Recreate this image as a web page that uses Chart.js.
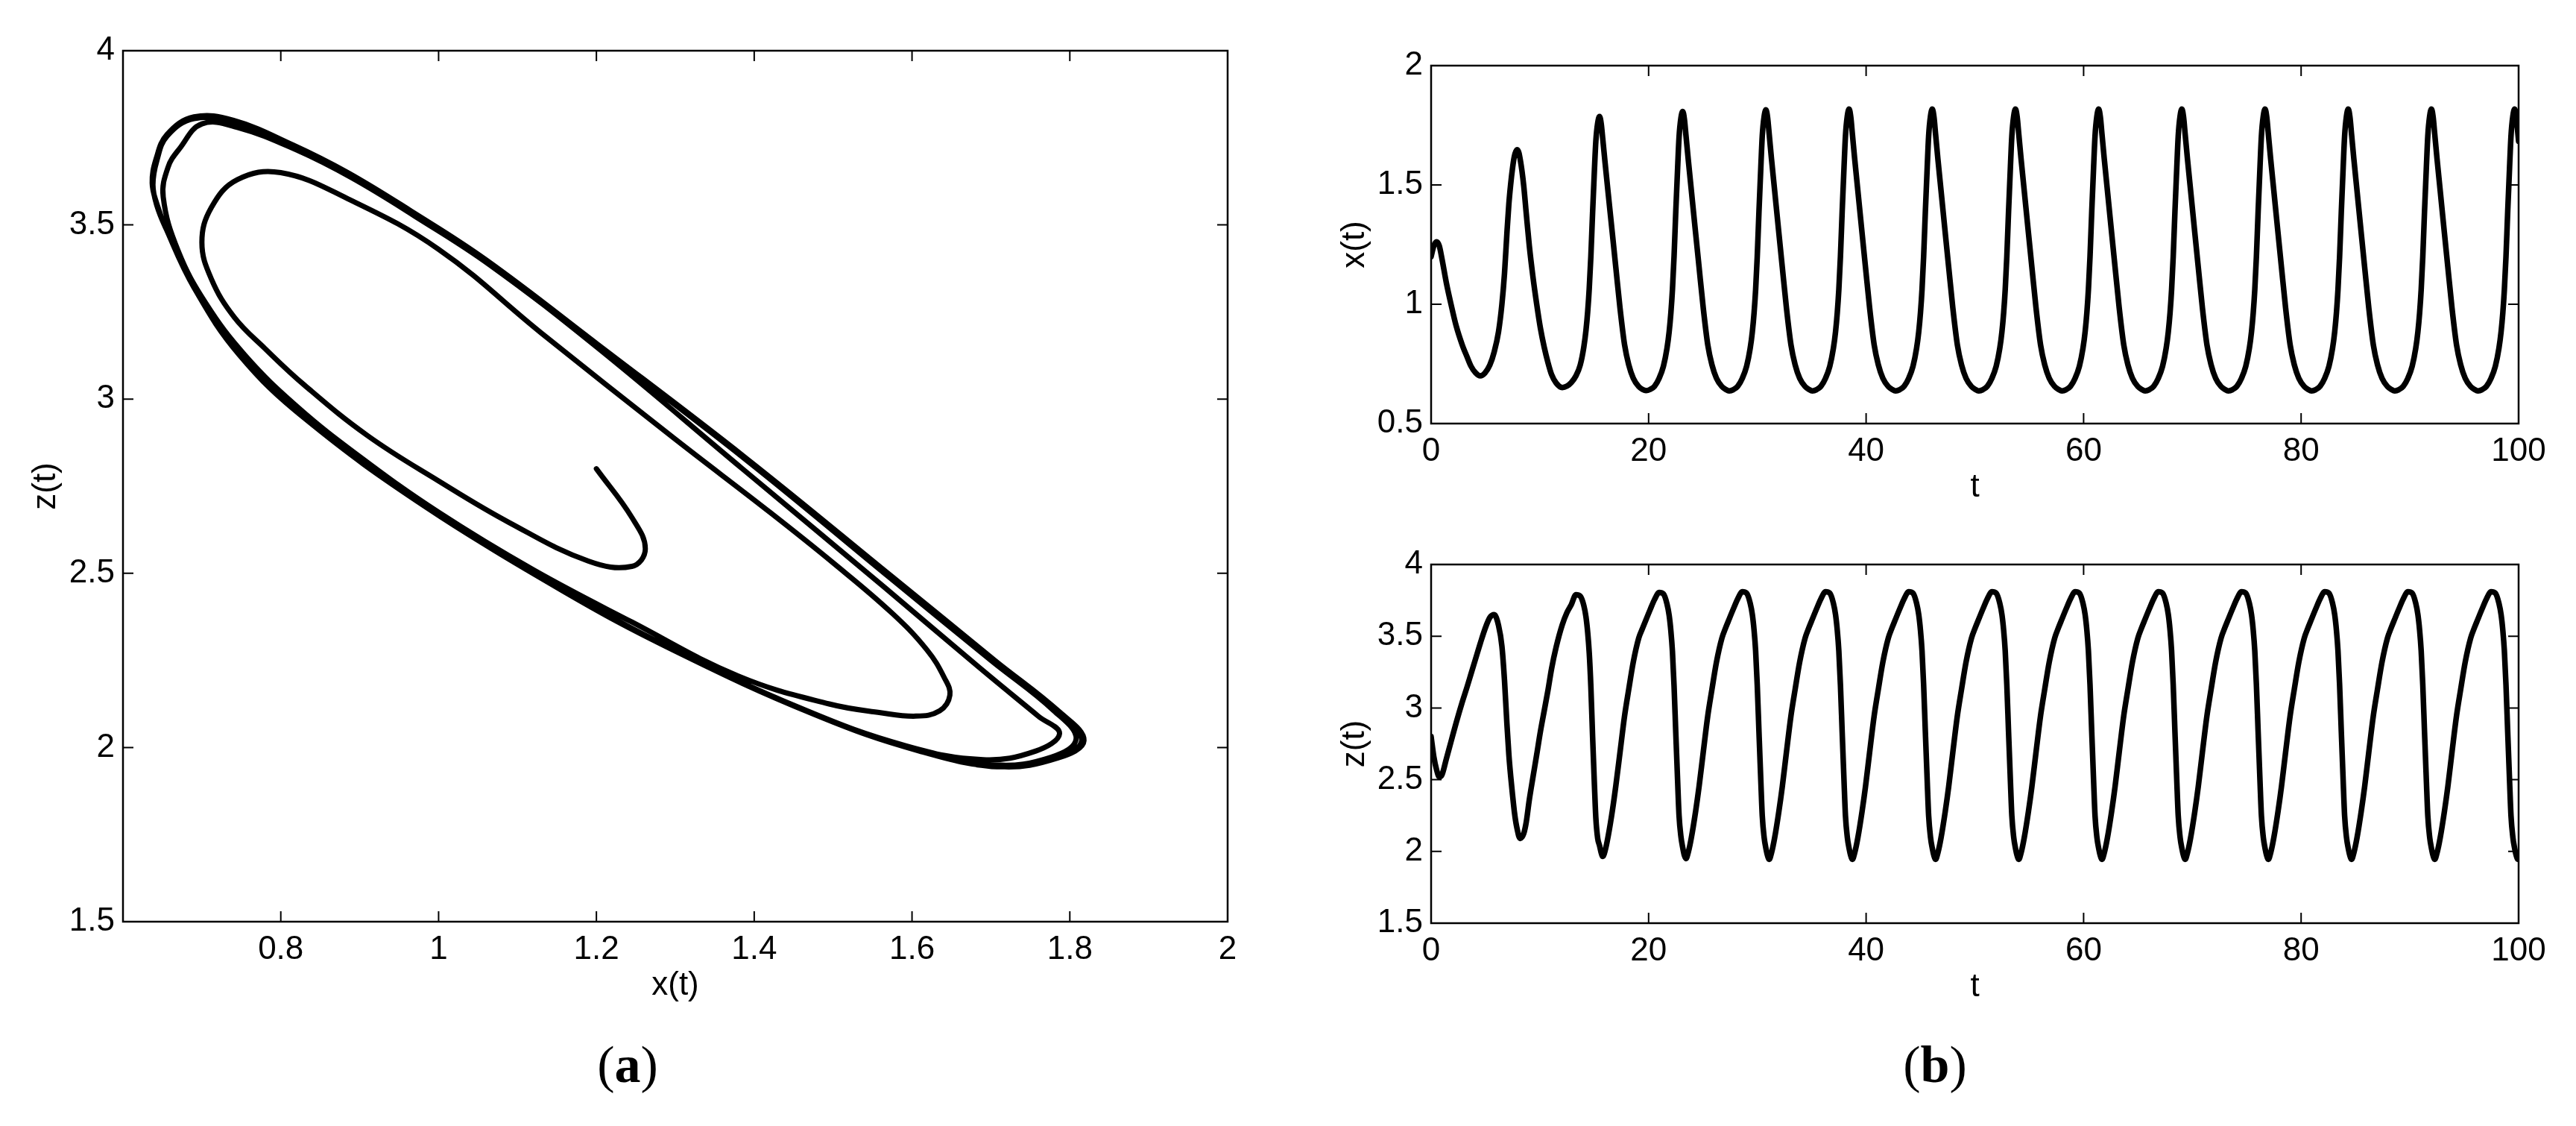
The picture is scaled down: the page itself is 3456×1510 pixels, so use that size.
<!DOCTYPE html>
<html>
<head>
<meta charset="utf-8">
<script src="https://cdn.jsdelivr.net/npm/chart.js@4.4.0/dist/chart.umd.min.js"></script>
<style>
html,body{margin:0;padding:0;background:#fff;}
body{width:3456px;height:1510px;position:relative;overflow:hidden;}
canvas{position:absolute;}
.cap{position:absolute;font-family:'Liberation Serif','DejaVu Serif',serif;font-size:70px;line-height:1;transform:translate(-50%,-50%);color:#000;white-space:nowrap;}
.cap b{font-weight:bold;}
</style>
</head>
<body>
<canvas id="phase" width="1720" height="1360" style="left:0px;top:0px;width:1720px;height:1360px"></canvas>
<canvas id="xts" width="1736" height="700" style="left:1720px;top:0px;width:1736px;height:700px"></canvas>
<canvas id="zts" width="1736" height="700" style="left:1720px;top:700px;width:1736px;height:700px"></canvas>
<div class="cap" style="left:842px;top:1428px">(<b>a</b>)</div>
<div class="cap" style="left:2596px;top:1428px">(<b>b</b>)</div>
<script>
// ---------------- data ----------------
// time samples (same instants for x(t) and z(t)); one line per oscillation
const time = [
 0,0.25,0.5,0.75,1.0,1.4,1.83,2.3,2.86,3.3,3.66,4.1,4.52,4.95,5.4,5.8,6.2,6.51,6.75,6.97,7.15,7.31,7.5,7.65,7.8,7.93,8.07,8.2,8.35,8.52,8.75,9.03,9.35,9.71,10.05,10.4,10.75,11.08,11.5,12.06,
 12.49,12.89,13.32,13.71,14.04,14.24,14.40,14.54,14.69,14.85,15.02,15.15,15.32,15.49,15.64,15.79,16.00,16.29,16.68,16.99,17.37,17.79,18.17,18.59,19.09,19.44,
 19.76,20.14,20.54,20.97,21.36,21.69,21.89,22.05,22.19,22.34,22.50,22.67,22.80,22.97,23.14,23.29,23.44,23.65,23.94,24.33,24.64,25.02,25.44,25.82,26.24,26.74,27.09,
 27.41,27.79,28.19,28.62,29.01,29.34,29.54,29.70,29.84,29.99,30.15,30.32,30.45,30.62,30.79,30.94,31.09,31.30,31.59,31.98,32.29,32.67,33.09,33.47,33.89,34.39,34.74,
 35.06,35.44,35.84,36.27,36.66,36.99,37.19,37.35,37.49,37.64,37.80,37.97,38.10,38.27,38.44,38.59,38.74,38.95,39.24,39.63,39.94,40.32,40.74,41.12,41.54,42.04,42.39,
 42.71,43.09,43.49,43.92,44.31,44.64,44.84,45.00,45.14,45.29,45.45,45.62,45.75,45.92,46.09,46.24,46.39,46.60,46.89,47.28,47.59,47.97,48.39,48.77,49.19,49.69,50.04,
 50.36,50.74,51.14,51.57,51.96,52.29,52.49,52.65,52.79,52.94,53.10,53.27,53.40,53.57,53.74,53.89,54.04,54.25,54.54,54.93,55.24,55.62,56.04,56.42,56.84,57.34,57.69,
 58.01,58.39,58.79,59.22,59.61,59.94,60.14,60.30,60.44,60.59,60.75,60.92,61.05,61.22,61.39,61.54,61.69,61.90,62.19,62.58,62.89,63.27,63.69,64.07,64.49,64.99,65.34,
 65.66,66.04,66.44,66.87,67.26,67.59,67.79,67.95,68.09,68.24,68.40,68.57,68.70,68.87,69.04,69.19,69.34,69.55,69.84,70.23,70.54,70.92,71.34,71.72,72.14,72.64,72.99,
 73.31,73.69,74.09,74.52,74.91,75.24,75.44,75.60,75.74,75.89,76.05,76.22,76.35,76.52,76.69,76.84,76.99,77.20,77.49,77.88,78.19,78.57,78.99,79.37,79.79,80.29,80.64,
 80.96,81.34,81.74,82.17,82.56,82.89,83.09,83.25,83.39,83.54,83.70,83.87,84.00,84.17,84.34,84.49,84.64,84.85,85.14,85.53,85.84,86.22,86.64,87.02,87.44,87.94,88.29,
 88.61,88.99,89.39,89.82,90.21,90.54,90.74,90.90,91.04,91.19,91.35,91.52,91.65,91.82,91.99,92.14,92.29,92.50,92.79,93.18,93.49,93.87,94.29,94.67,95.09,95.59,95.94,
 96.26,96.64,97.04,97.47,97.86,98.19,98.39,98.55,98.69,98.84,99.00,99.17,99.30,99.47,99.64,99.79,99.94,100
];
// x(t)
const xValues = [
 1.200,1.245,1.262,1.245,1.190,1.090,1.000,0.910,0.830,0.780,0.741,0.712,0.700,0.712,0.745,0.800,0.885,1.000,1.130,1.297,1.420,1.500,1.575,1.619,1.641,1.648,1.635,1.605,1.560,1.495,1.380,1.245,1.120,1.000,0.900,0.820,0.755,0.705,0.670,0.651,
 0.657,0.672,0.700,0.745,0.820,0.890,0.970,1.065,1.200,1.385,1.565,1.685,1.760,1.787,1.757,1.690,1.592,1.462,1.290,1.152,0.984,0.830,0.747,0.690,0.655,0.643,
 0.638,0.643,0.656,0.690,0.740,0.815,0.885,0.965,1.060,1.200,1.390,1.572,1.700,1.780,1.808,1.776,1.705,1.604,1.472,1.295,1.156,0.986,0.830,0.747,0.690,0.655,0.643,
 0.637,0.642,0.656,0.690,0.740,0.815,0.885,0.965,1.060,1.200,1.390,1.575,1.705,1.786,1.815,1.783,1.712,1.609,1.476,1.297,1.157,0.986,0.830,0.747,0.690,0.655,0.643,
 0.637,0.642,0.656,0.690,0.740,0.815,0.885,0.965,1.060,1.200,1.390,1.575,1.705,1.788,1.818,1.785,1.712,1.609,1.476,1.297,1.157,0.986,0.830,0.747,0.690,0.655,0.643,
 0.637,0.642,0.656,0.690,0.740,0.815,0.885,0.965,1.060,1.200,1.390,1.575,1.705,1.788,1.818,1.785,1.712,1.609,1.476,1.297,1.157,0.986,0.830,0.747,0.690,0.655,0.643,
 0.637,0.642,0.656,0.690,0.740,0.815,0.885,0.965,1.060,1.200,1.390,1.575,1.705,1.788,1.818,1.785,1.712,1.609,1.476,1.297,1.157,0.986,0.830,0.747,0.690,0.655,0.643,
 0.637,0.642,0.656,0.690,0.740,0.815,0.885,0.965,1.060,1.200,1.390,1.575,1.705,1.788,1.818,1.785,1.712,1.609,1.476,1.297,1.157,0.986,0.830,0.747,0.690,0.655,0.643,
 0.637,0.642,0.656,0.690,0.740,0.815,0.885,0.965,1.060,1.200,1.390,1.575,1.705,1.788,1.818,1.785,1.712,1.609,1.476,1.297,1.157,0.986,0.830,0.747,0.690,0.655,0.643,
 0.637,0.642,0.656,0.690,0.740,0.815,0.885,0.965,1.060,1.200,1.390,1.575,1.705,1.788,1.818,1.785,1.712,1.609,1.476,1.297,1.157,0.986,0.830,0.747,0.690,0.655,0.643,
 0.637,0.642,0.656,0.690,0.740,0.815,0.885,0.965,1.060,1.200,1.390,1.575,1.705,1.788,1.818,1.785,1.712,1.609,1.476,1.297,1.157,0.986,0.830,0.747,0.690,0.655,0.643,
 0.637,0.642,0.656,0.690,0.740,0.815,0.885,0.965,1.060,1.200,1.390,1.575,1.705,1.788,1.818,1.785,1.712,1.609,1.476,1.297,1.157,0.986,0.830,0.747,0.690,0.655,0.643,
 0.637,0.642,0.656,0.690,0.740,0.815,0.885,0.965,1.060,1.200,1.390,1.575,1.705,1.788,1.818,1.785,1.712,1.683
];
// z(t)
const zValues = [
 2.800,2.660,2.570,2.520,2.535,2.645,2.765,2.895,3.040,3.145,3.235,3.345,3.450,3.550,3.630,3.650,3.575,3.430,3.190,2.890,2.675,2.530,2.385,2.280,2.200,2.150,2.105,2.090,2.100,2.125,2.205,2.360,2.510,2.675,2.835,2.980,3.125,3.275,3.425,3.580,
 3.665,3.720,3.790,3.780,3.715,3.635,3.525,3.385,3.150,2.800,2.460,2.230,2.090,2.040,1.990,1.965,2.005,2.110,2.290,2.460,2.690,2.945,3.128,3.320,3.487,3.555,
 3.615,3.685,3.755,3.805,3.795,3.725,3.645,3.535,3.395,3.155,2.825,2.487,2.250,2.105,2.025,1.972,1.950,1.995,2.100,2.283,2.452,2.689,2.945,3.128,3.320,3.487,3.560,
 3.620,3.690,3.760,3.810,3.800,3.730,3.650,3.540,3.400,3.160,2.830,2.490,2.250,2.100,2.020,1.970,1.945,1.990,2.095,2.280,2.450,2.689,2.945,3.128,3.320,3.487,3.560,
 3.620,3.690,3.760,3.810,3.800,3.730,3.650,3.540,3.400,3.160,2.830,2.490,2.250,2.100,2.020,1.970,1.945,1.990,2.095,2.280,2.450,2.689,2.945,3.128,3.320,3.487,3.560,
 3.620,3.690,3.760,3.810,3.800,3.730,3.650,3.540,3.400,3.160,2.830,2.490,2.250,2.100,2.020,1.970,1.945,1.990,2.095,2.280,2.450,2.689,2.945,3.128,3.320,3.487,3.560,
 3.620,3.690,3.760,3.810,3.800,3.730,3.650,3.540,3.400,3.160,2.830,2.490,2.250,2.100,2.020,1.970,1.945,1.990,2.095,2.280,2.450,2.689,2.945,3.128,3.320,3.487,3.560,
 3.620,3.690,3.760,3.810,3.800,3.730,3.650,3.540,3.400,3.160,2.830,2.490,2.250,2.100,2.020,1.970,1.945,1.990,2.095,2.280,2.450,2.689,2.945,3.128,3.320,3.487,3.560,
 3.620,3.690,3.760,3.810,3.800,3.730,3.650,3.540,3.400,3.160,2.830,2.490,2.250,2.100,2.020,1.970,1.945,1.990,2.095,2.280,2.450,2.689,2.945,3.128,3.320,3.487,3.560,
 3.620,3.690,3.760,3.810,3.800,3.730,3.650,3.540,3.400,3.160,2.830,2.490,2.250,2.100,2.020,1.970,1.945,1.990,2.095,2.280,2.450,2.689,2.945,3.128,3.320,3.487,3.560,
 3.620,3.690,3.760,3.810,3.800,3.730,3.650,3.540,3.400,3.160,2.830,2.490,2.250,2.100,2.020,1.970,1.945,1.990,2.095,2.280,2.450,2.689,2.945,3.128,3.320,3.487,3.560,
 3.620,3.690,3.760,3.810,3.800,3.730,3.650,3.540,3.400,3.160,2.830,2.490,2.250,2.100,2.020,1.970,1.945,1.990,2.095,2.280,2.450,2.689,2.945,3.128,3.320,3.487,3.560,
 3.620,3.690,3.760,3.810,3.800,3.730,3.650,3.540,3.400,3.160,2.830,2.490,2.250,2.100,2.020,1.970,1.945,1.950
];

// tick values and labels
const phaseXTicks = [0.8, 1, 1.2, 1.4, 1.6, 1.8, 2];
const phaseXLabels = ['0.8', '1', '1.2', '1.4', '1.6', '1.8', '2'];
const zTicks = [1.5, 2, 2.5, 3, 3.5, 4];
const zLabels = ['1.5', '2', '2.5', '3', '3.5', '4'];
const tTicks = [0, 20, 40, 60, 80, 100];
const tLabels = ['0', '20', '40', '60', '80', '100'];
const xTicks = [0.5, 1, 1.5, 2];
const xLabels = ['0.5', '1', '1.5', '2'];

// ---------------- drawing ----------------
const FONT = "'Liberation Sans', Arial, Helvetica, sans-serif";
Chart.defaults.font.family = FONT;
Chart.defaults.color = '#000';

const boxPlugin = {
  id: 'boxTicks',
  afterDatasetsDraw(chart) {
    const {ctx, chartArea: a, scales} = chart;
    const L = 14;
    ctx.save();
    ctx.strokeStyle = '#000';
    ctx.lineWidth = 2;
    ctx.beginPath();
    for (const tk of scales.x.ticks) {
      const p = scales.x.getPixelForValue(tk.value);
      if (p <= a.left + 2 || p >= a.right - 2) continue;
      ctx.moveTo(p, a.bottom); ctx.lineTo(p, a.bottom - L);
      ctx.moveTo(p, a.top); ctx.lineTo(p, a.top + L);
    }
    for (const tk of scales.y.ticks) {
      const p = scales.y.getPixelForValue(tk.value);
      if (p <= a.top + 2 || p >= a.bottom - 2) continue;
      ctx.moveTo(a.left, p); ctx.lineTo(a.left + L, p);
      ctx.moveTo(a.right, p); ctx.lineTo(a.right - L, p);
    }
    ctx.stroke();
    ctx.lineWidth = 2.5;
    ctx.strokeRect(a.left, a.top, a.right - a.left, a.bottom - a.top);
    ctx.restore();
  }
};

function axis(o) {
  return {
    type: 'linear', min: o.min, max: o.max,
    grid: {display: false, drawTicks: false},
    border: {display: false},
    afterBuildTicks: s => { s.ticks = o.ticks.map(v => ({value: v})); },
    afterFit: s => {
      if (o.width != null) s.width = o.width;
      if (o.height != null) s.height = o.height;
    },
    ticks: {
      font: {family: FONT, size: 44}, color: '#000', padding: 11,
      autoSkip: false, maxRotation: 0, minRotation: 0,
      callback: (v, i) => o.labels[i]
    },
    title: {display: true, text: o.title, color: '#000',
      font: {family: FONT, size: 44}, padding: o.titlePad}
  };
}

function makeChart(id, points, lineWidth, useMonotone, xAxis, yAxis, pad) {
  return new Chart(document.getElementById(id), {
    type: 'scatter',
    data: {datasets: [{
      data: points, showLine: true, pointRadius: 0, pointHoverRadius: 0,
      borderColor: '#000', borderWidth: lineWidth,
      borderJoinStyle: 'round', borderCapStyle: 'round',
      tension: useMonotone ? 0 : 0.4,
      cubicInterpolationMode: useMonotone ? 'monotone' : 'default',
      clip: 0
    }]},
    options: {
      responsive: false, animation: false, devicePixelRatio: 1, events: [],
      layout: {padding: pad},
      plugins: {legend: {display: false}, tooltip: {enabled: false}},
      scales: {x: xAxis, y: yAxis}
    },
    plugins: [boxPlugin]
  });
}

// (a) phase portrait x(t) vs z(t)
makeChart('phase',
  time.map((_, i) => ({x: xValues[i], y: zValues[i]})), 7, false,
  axis({min: 0.6, max: 2, ticks: phaseXTicks, labels: phaseXLabels, title: 'x(t)', height: 124, titlePad: {top: 0, bottom: 11.6}}),
  axis({min: 1.5, max: 4, ticks: zTicks, labels: zLabels, title: 'z(t)', width: 165, titlePad: {top: 35.6, bottom: 0}}),
  {left: 0, top: 68, right: 73, bottom: 0});

// (b) top: x(t)
makeChart('xts',
  time.map((tv, i) => ({x: tv, y: xValues[i]})), 7.5, true,
  axis({min: 0, max: 100, ticks: tTicks, labels: tLabels, title: 't', height: 132, titlePad: {top: 0, bottom: 19.6}}),
  axis({min: 0.5, max: 2, ticks: xTicks, labels: xLabels, title: 'x(t)', width: 200, titlePad: {top: 71.6, bottom: 0}}),
  {left: 0, top: 88, right: 77, bottom: 0});

// (b) bottom: z(t)
makeChart('zts',
  time.map((tv, i) => ({x: tv, y: zValues[i]})), 7.5, true,
  axis({min: 0, max: 100, ticks: tTicks, labels: tLabels, title: 't', height: 162, titlePad: {top: 0, bottom: 49.6}}),
  axis({min: 1.5, max: 4, ticks: zTicks, labels: zLabels, title: 'z(t)', width: 200, titlePad: {top: 71.6, bottom: 0}}),
  {left: 0, top: 57, right: 77, bottom: 0});
</script>
</body>
</html>
